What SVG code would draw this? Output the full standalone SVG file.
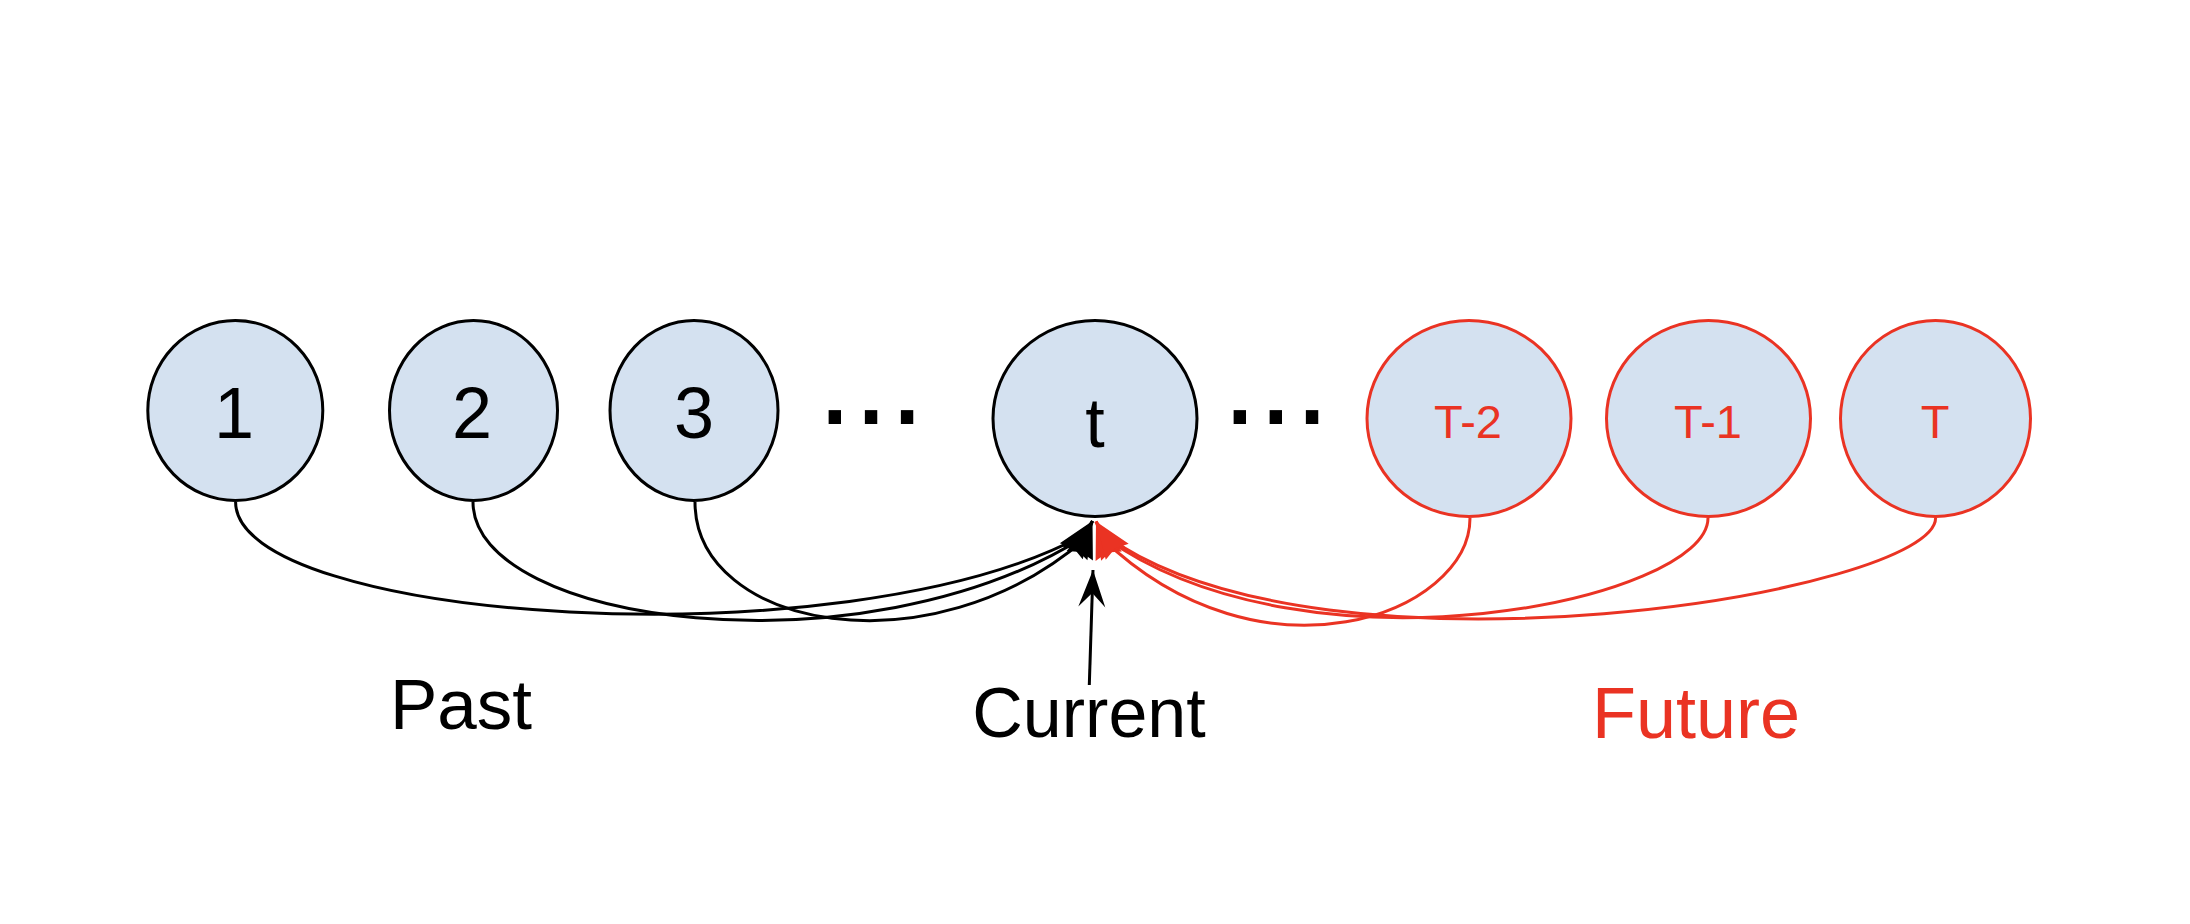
<svg xmlns="http://www.w3.org/2000/svg" width="2190" height="924" viewBox="0 0 2190 924">
<style>
.nb{fill:#d4e1f0;stroke:#000;stroke-width:3}
.nr{fill:#d4e1f0;stroke:#ea3323;stroke-width:3}
.tb{font-family:"Liberation Sans",Arial,sans-serif;fill:#000;text-anchor:middle}
.tr{font-family:"Liberation Sans",Arial,sans-serif;fill:#ea3323;text-anchor:middle}
.cb{fill:none;stroke:#000;stroke-width:3}
.cr{fill:none;stroke:#ea3323;stroke-width:3}
</style>
<defs>
<marker id="ab" viewBox="-40 -16 42 32" refX="0" refY="0" markerWidth="42" markerHeight="32" markerUnits="userSpaceOnUse" orient="auto">
<path d="M0,0 L-37,-14 L-33,0 L-37,14 Z" fill="#000"/>
</marker>
<marker id="ar" viewBox="-40 -16 42 32" refX="0" refY="0" markerWidth="42" markerHeight="32" markerUnits="userSpaceOnUse" orient="auto">
<path d="M0,0 L-37,-14 L-33,0 L-37,14 Z" fill="#ea3323"/>
</marker>
<marker id="ac" viewBox="-40 -16 42 32" refX="0" refY="0" markerWidth="42" markerHeight="32" markerUnits="userSpaceOnUse" orient="auto">
<path d="M0,0 L-37,-13.5 L-23,0 L-37,13.5 Z" fill="#000"/>
</marker>
</defs>
<rect width="2190" height="924" fill="#fff"/>
<g id="connectors">
<path class="cb" d="M235.6,502 C235.6,622 843.8,664 1082.2,535.7 L1092.5,521" marker-end="url(#ab)"/>
<path class="cb" d="M473,502 C473,625 863.5,676 1084,536.9 L1092.5,521" marker-end="url(#ab)"/>
<path class="cb" d="M695,502 C695,628 930,674 1086.3,537.9 L1092.5,521" marker-end="url(#ab)"/>
<path class="cr" d="M1470,518 C1470,614 1262,692 1102.2,538.4 L1096,521.5" marker-end="url(#ar)"/>
<path class="cr" d="M1708,518 C1708,600 1309.3,684 1104.5,537.4 L1096,521.5" marker-end="url(#ar)"/>
<path class="cr" d="M1935.6,518 C1935.6,592 1327.4,693 1106.3,536.2 L1096,521.5" marker-end="url(#ar)"/>
<path class="cb" d="M1089.3,685 L1093,570" marker-end="url(#ac)"/>
</g>
<g id="node-1"><ellipse class="nb" cx="235.3" cy="410.5" rx="87.5" ry="90"/><text class="tb" x="234" y="438" font-size="72">1</text></g>
<g id="node-2"><ellipse class="nb" cx="473.5" cy="410.5" rx="84" ry="90"/><text class="tb" x="472" y="438" font-size="72">2</text></g>
<g id="node-3"><ellipse class="nb" cx="694" cy="410.5" rx="84" ry="90"/><text class="tb" x="694" y="438" font-size="72">3</text></g>
<g id="dots-1"><text x="816.8" y="424" font-size="130" font-family="Liberation Sans,Arial,sans-serif" fill="#000">...</text></g>
<g id="node-t"><ellipse class="nb" cx="1095" cy="418.5" rx="102" ry="98"/><text class="tb" x="1095" y="446.5" font-size="70">t</text></g>
<g id="dots-2"><text x="1221.7" y="424" font-size="130" font-family="Liberation Sans,Arial,sans-serif" fill="#000">...</text></g>
<g id="node-T-2"><ellipse class="nr" cx="1469" cy="418.5" rx="102" ry="98"/><text class="tr" x="1468" y="437.7" font-size="47">T-2</text></g>
<g id="node-T-1"><ellipse class="nr" cx="1708.5" cy="418.5" rx="102" ry="98"/><text class="tr" x="1708" y="437.7" font-size="47">T-1</text></g>
<g id="node-T"><ellipse class="nr" cx="1935.5" cy="418.5" rx="95" ry="98"/><text class="tr" x="1935" y="437.7" font-size="47">T</text></g>
<g id="label-past"><text x="390" y="729" font-size="71" font-family="Liberation Sans,Arial,sans-serif" fill="#000">Past</text></g>
<g id="label-current"><text class="tb" x="1089" y="737" font-size="70">Current</text></g>
<g id="label-future"><text x="1592" y="738" font-size="72" font-family="Liberation Sans,Arial,sans-serif" fill="#ea3323">Future</text></g>
</svg>
